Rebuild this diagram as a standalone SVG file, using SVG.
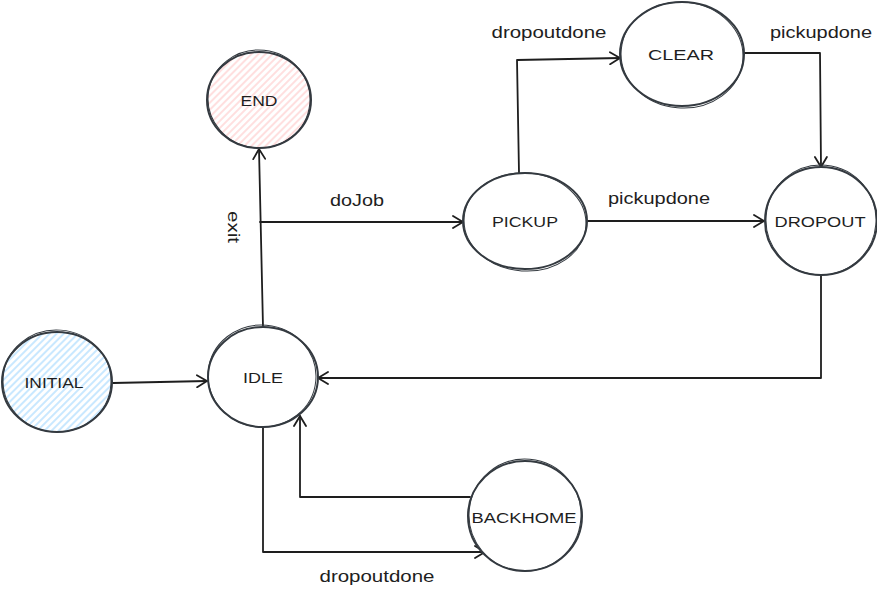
<svg xmlns="http://www.w3.org/2000/svg" width="877" height="592" viewBox="0 0 877 592">
<defs>
<pattern id="hBlue" patternUnits="userSpaceOnUse" width="5" height="5" patternTransform="rotate(45)"><line x1="1" y1="0" x2="1" y2="5" stroke="#a5d8ff" stroke-width="1.2"/></pattern>
<pattern id="hPink" patternUnits="userSpaceOnUse" width="5" height="5" patternTransform="rotate(45)"><line x1="1" y1="0" x2="1" y2="5" stroke="#ffc9c9" stroke-width="1.2"/></pattern>
<marker id="arr" viewBox="0 0 12 14" refX="11" refY="7" markerWidth="12" markerHeight="14" markerUnits="userSpaceOnUse" orient="auto"><path d="M1,1 L11,7 L1,13" fill="none" stroke="#1e1e1e" stroke-width="1.8" stroke-linecap="round" stroke-linejoin="round"/></marker>
<style>
.n{fill:#fff;stroke:#343a40;stroke-width:2}
.n2{fill:none;stroke:#343a40;stroke-width:1}
.t{font-family:"Liberation Sans",Arial,sans-serif;font-size:15px;fill:#1e1e1e;text-anchor:middle}
.l{font-family:"Liberation Sans",Arial,sans-serif;font-size:16px;fill:#1e1e1e;text-anchor:middle}
.c{fill:none;stroke:#1e1e1e;stroke-width:1.8;stroke-linecap:round;stroke-linejoin:round;marker-end:url(#arr)}
</style>
</defs>
<rect width="877" height="592" fill="#fff"/>
<g id="connectors">
<path class="c" d="M113,383 L207,381"/>
<path class="c" d="M263,327 L259,149"/>
<path class="c" d="M260,222 L463,222"/>
<path class="c" d="M588,221 L764,221"/>
<path class="c" d="M519,173 L517,60 L620,58"/>
<path class="c" d="M744,53 L820,53 L821,167"/>
<path class="c" d="M821,275 L821,378 L318,378"/>
<path class="c" d="M470,497 L300,497 L300,416"/>
<path class="c" d="M263,427 L263,552 L485,552"/>
<text class="l" x="357" y="206" textLength="54" lengthAdjust="spacingAndGlyphs">doJob</text>
<text class="l" transform="translate(228,227) rotate(90)" x="0" y="0" textLength="32" lengthAdjust="spacingAndGlyphs">exit</text>
<text class="l" x="659" y="204" textLength="102" lengthAdjust="spacingAndGlyphs">pickupdone</text>
<text class="l" x="821" y="38" textLength="102" lengthAdjust="spacingAndGlyphs">pickupdone</text>
<text class="l" x="549" y="38" textLength="115" lengthAdjust="spacingAndGlyphs">dropoutdone</text>
<text class="l" x="377" y="582" textLength="115" lengthAdjust="spacingAndGlyphs">dropoutdone</text>
</g>
<g id="INITIAL">
<ellipse cx="57" cy="382" rx="55" ry="50" fill="#fff"/>
<ellipse cx="57" cy="382" rx="55" ry="50" fill="url(#hBlue)" stroke="#343a40" stroke-width="2"/>
<ellipse class="n2" cx="57" cy="381" rx="54" ry="51" transform="rotate(4 57 381)"/>
<text class="t" x="54" y="388" textLength="59" lengthAdjust="spacingAndGlyphs">INITIAL</text>
</g>
<g id="IDLE">
<ellipse class="n" cx="263" cy="377" rx="55" ry="50"/>
<ellipse class="n2" cx="262" cy="376" rx="54" ry="51" transform="rotate(5 262 376)"/>
<text class="t" x="263" y="383" textLength="40" lengthAdjust="spacingAndGlyphs">IDLE</text>
</g>
<g id="END">
<ellipse cx="259" cy="100" rx="52" ry="48" fill="#fff"/>
<ellipse cx="259" cy="100" rx="52" ry="48" fill="url(#hPink)" stroke="#343a40" stroke-width="2"/>
<ellipse class="n2" cx="259" cy="99" rx="51" ry="49" transform="rotate(6 259 99)"/>
<text class="t" x="259" y="106" textLength="37" lengthAdjust="spacingAndGlyphs">END</text>
</g>
<g id="PICKUP">
<ellipse class="n" cx="525" cy="221" rx="62" ry="48"/>
<ellipse class="n2" cx="525" cy="222" rx="61" ry="49" transform="rotate(4 525 222)"/>
<text class="t" x="525" y="227" textLength="66" lengthAdjust="spacingAndGlyphs">PICKUP</text>
</g>
<g id="DROPOUT">
<ellipse class="n" cx="821" cy="221" rx="56" ry="54"/>
<ellipse class="n2" cx="821" cy="220" rx="55" ry="55" transform="rotate(5 821 220)"/>
<text class="t" x="820" y="227" textLength="91" lengthAdjust="spacingAndGlyphs">DROPOUT</text>
</g>
<g id="CLEAR">
<ellipse class="n" cx="682" cy="54" rx="62" ry="52"/>
<ellipse class="n2" cx="682" cy="55" rx="61" ry="53" transform="rotate(5 682 55)"/>
<text class="t" x="681" y="60" textLength="66" lengthAdjust="spacingAndGlyphs">CLEAR</text>
</g>
<g id="BACKHOME">
<ellipse class="n" cx="525" cy="516" rx="57" ry="55"/>
<ellipse class="n2" cx="525" cy="515" rx="56" ry="56" transform="rotate(5 525 515)"/>
<text class="t" x="524" y="523" textLength="105" lengthAdjust="spacingAndGlyphs">BACKHOME</text>
</g>
</svg>
